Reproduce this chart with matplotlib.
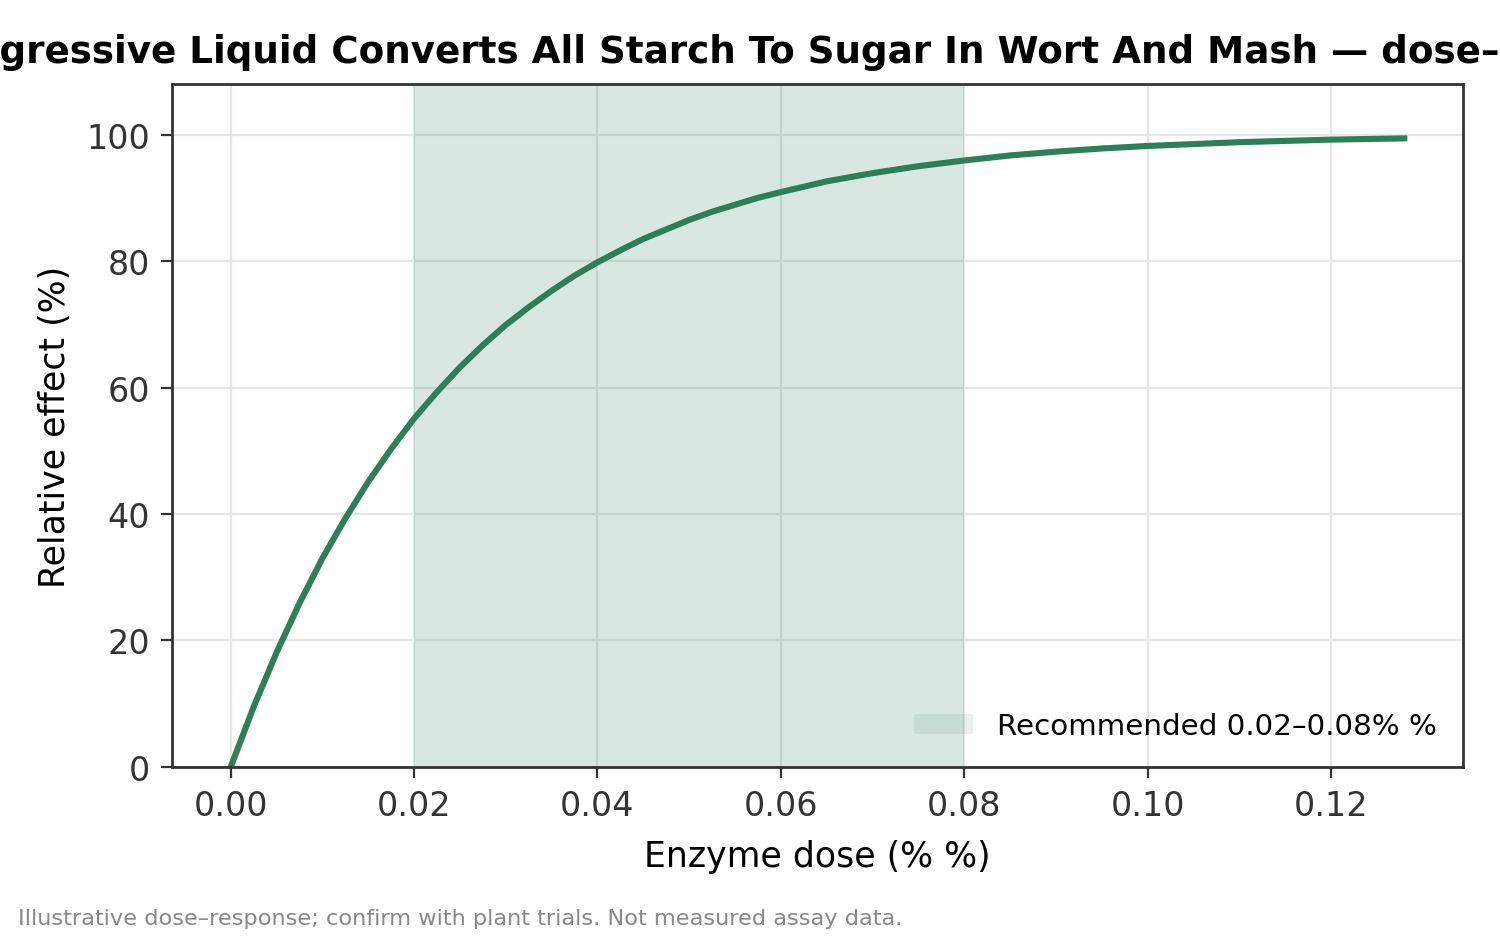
import matplotlib
matplotlib.use("Agg")
import matplotlib.pyplot as plt

# values
dose = [0.0, 0.0025, 0.005, 0.0075, 0.01, 0.0125, 0.015, 0.0175, 0.02, 0.0225,
        0.025, 0.0275, 0.03, 0.0325, 0.035, 0.0375, 0.04, 0.0425, 0.045, 0.0475,
        0.05, 0.0525, 0.055, 0.0575, 0.06, 0.065, 0.07, 0.075, 0.08, 0.085,
        0.09, 0.095, 0.10, 0.11, 0.12, 0.128]
effect = [0.0, 9.5, 18.1, 25.9, 33.0, 39.3, 45.1, 50.3, 55.1, 59.3,
          63.2, 66.7, 69.9, 72.7, 75.3, 77.7, 79.8, 81.7, 83.5, 85.0,
          86.5, 87.8, 88.9, 90.0, 90.9, 92.6, 93.9, 95.0, 95.9, 96.7,
          97.3, 97.8, 98.2, 98.8, 99.2, 99.4]
rec_low, rec_high = 0.02, 0.08

green = "#2e7d5b"
dark = "#333333"

fig = plt.figure(figsize=(7.5, 4.685), dpi=200)
ax = fig.add_axes([0.1147, 0.1804, 0.8606, 0.7289])

ax.axvspan(rec_low, rec_high, color=green, alpha=0.18, lw=0,
           label="Recommended 0.02\u20130.08% %")
ax.plot(dose, effect, color=green, lw=2.2)

ax.set_ylim(0, 108)
ax.set_yticks([0, 20, 40, 60, 80, 100])
ax.set_xticks([0.0, 0.02, 0.04, 0.06, 0.08, 0.10, 0.12])
ax.grid(True, color="#e6e6e6", lw=0.8)
ax.set_axisbelow(True)

for s in ax.spines.values():
    s.set_color(dark)
    s.set_linewidth(1.0)
ax.tick_params(colors=dark, labelsize=12, length=4, pad=4)
for lab in ax.get_xticklabels() + ax.get_yticklabels():
    lab.set_color(dark)

ax.set_xlabel("Enzyme dose (% %)", fontsize=12.5, labelpad=6)
ax.set_ylabel("Relative effect (%)", fontsize=12.5, labelpad=5)
ax.set_title("Aggressive Liquid Converts All Starch To Sugar In Wort And Mash \u2014 dose\u2013response",
             fontsize=13.4, fontweight="bold", pad=8)

leg = ax.legend(loc="lower right", frameon=False, fontsize=10.6)
for h in leg.legend_handles:
    h.set_alpha(0.1)

fig.text(0.012, 0.013, "Illustrative dose\u2013response; confirm with plant trials. Not measured assay data.",
         fontsize=8.1, color="#888888")

fig.savefig("out.png")
